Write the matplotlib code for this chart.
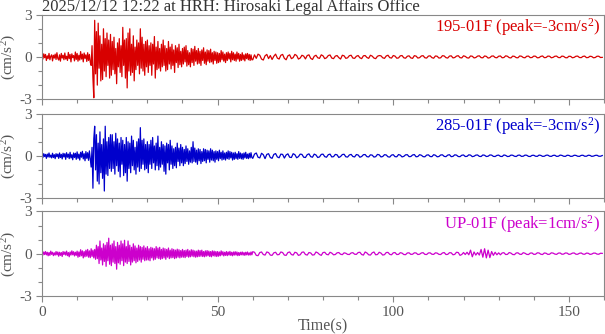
import numpy as np
import matplotlib
matplotlib.use("Agg")
import matplotlib.pyplot as plt

plt.rcParams['font.family'] = ['Liberation Serif', 'DejaVu Serif']
plt.rcParams['mathtext.fontset'] = 'custom'
plt.rcParams['mathtext.rm'] = 'Liberation Serif'
plt.rcParams['mathtext.it'] = 'Liberation Serif'
plt.rcParams['axes.unicode_minus'] = False

title = "2025/12/12 12:22 at HRH: Hirosaki Legal Affairs Office"
names = ["195-01F", "285-01F", "UP-01F"]
peaks = [-3, -3, 1]
colors = ["#d80000", "#0000cc", "#cc00cc"]

# accelerations in 0.01 cm/s^2
# head: 0-60 s every 0.25 s, tail: 60-160 s every 0.5 s
ns_head = [10, -15, 22, -5, 18, -25, 8, -12, 25, -20, 5, 15, -28, 12, -8, 20, -18, 30, -10, -22,
           15, -30, 25, -8, 12, -20, 28, -15, 5, -25, 32, -12, 18, -35, 22, -5, 10, -28, 35, -18,
           25, -30, 12, -22, 38, -15, 20, -35, 28, -10, 15, -32, 30, -25, 18, -38, -60, 80, -150, -290,
           260, -120, 180, -200, 240, -80, 150, -170, 90, -160, 200, -100, 130, -140, 170, -60, 120, -150, 160, -130,
           110, -90, 140, -120, 60, -190, 100, -70, 130, -110, 80, -140, 210, -60, 120, -150, 130, -220, 170, -100,
           200, -130, 90, -110, 150, -170, 70, -90, 120, -60, 100, -120, 200, -80, 140, -100, 90, -130, 110, -70,
           120, -110, 80, -60, 100, -130, 90, -50, 145, -150, 70, -90, 110, -80, 60, -100, 90, -70, 120, -60,
           80, -100, 60, -90, 110, -50, 70, -85, 90, -60, 50, -110, 80, -40, 65, -75, 90, -55, 40, -70,
           60, -50, 70, -35, 80, -65, 45, -55, 30, -70, 60, -40, 55, -60, 75, -30, 45, -50, 60, -45,
           40, -60, 50, -25, 65, -45, 35, -55, 50, -30, 45, -40, 55, -35, 30, -50, 40, -25, 35, -45,
           30, -40, 25, -35, 45, -20, 35, -30, 20, -40, 30, -25, 35, -15, 25, -35, 40, -20, 30, -25,
           20, -30, 35, -15, 25, -30, 18, -25, 30, -20, 15, -28, 22, -12, 25, -20, 18, -25, 15, -20]
ns_tail = [-20, 15, -10, 20, 12, -15, -22, 8, 18, -12, 10, -18, 5, 20, -8, -15, 12, 18, -10, -20,
           8, 15, -12, -5, 18, 10, -15, -8, 12, 6, -14, 10, 15, -10, -18, 5, 12, -6, -10, 15,
           8, -12, -6, 10, 14, -8, -12, 6, 10, -5, -15, 12, 8, -10, -6, 9, 12, -8, -10, 5,
           10, -6, -12, 8, 10, -4, -10, 12, 6, -8, -12, 5, 10, 8, -6, -10, 7, 12, -5, -8,
           10, 6, -9, -7, 8, 10, -6, -9, 5, 8, -7, -10, 9, 6, -8, -5, 7, 9, -6, -8,
           6, 8, -5, -9, 7, 5, -8, -6, 9, 7, -5, -8, 6, 8, -7, -4, 6, 9, -5, -7,
           8, 4, -6, -8, 7, 5, -7, -4, 6, 8, -5, -6, 7, 4, -8, -5, 6, 7, -4, -6,
           5, 7, -6, -4, 8, 5, -5, -7, 6, 4, -5, -6, 7, 5, -4, -6, 5, 6, -5, -4,
           6, 5, -6, -5, 4, 7, -5, -4, 6, 5, -6, -3, 5, 6, -4, -5, 6, 4, -5, -6,
           5, 4, -6, -3, 5, 6, -4, -5, 4, 6, -5, -4, 5, 3, -6, -4, 5, 5, -4, -3]

ew_head = [8, -12, 15, -5, 10, -18, 12, -8, 20, -10, 5, -15, 18, -12, 8, -20, 15, -6, 12, -18,
           20, -12, 10, -22, 18, -8, 15, -25, 22, -10, 12, -20, 25, -15, 8, -28, 20, -12, 18, -25,
           28, -18, 12, -30, 25, -10, 32, -22, 15, -35, 30, -18, 22, -32, 35, -20, -80, 60, -230, 120,
           210, -100, 150, -180, 90, -200, 170, -120, 80, -160, 120, -250, 210, -130, 100, -140, 130, -90, 150, -110,
           150, -90, 100, -130, 160, -70, 120, -110, 90, -150, 130, -60, 110, -140, 80, -120, 130, -180, 100, -90,
           90, -120, 140, -70, 110, -100, 60, -130, 100, -80, 120, -110, 200, -90, 110, -60, 120, -100, 80, -90,
           100, -120, 80, -60, 110, -90, 130, -50, 70, -100, 90, -70, 140, -100, 60, -80, 100, -60, 80, -110,
           70, -130, 90, -50, 80, -100, 110, -60, 70, -90, 50, -70, 60, -85, 90, -40, 55, -70, 80, -50,
           60, -70, 45, -55, 70, -40, 50, -60, 35, -45, 60, -50, 100, -40, 55, -45, 40, -60, 50, -35,
           45, -55, 30, -40, 50, -35, 45, -50, 40, -25, 35, -45, 50, -30, 40, -35, 30, -45, 35, -25,
           30, -35, 40, -20, 25, -30, 35, -25, 20, -30, 25, -20, 35, -25, 30, -15, 25, -30, 20, -25,
           25, -20, 15, -25, 30, -18, 20, -22, 15, -25, 20, -15, 25, -18, 12, -20, 18, -15, 22, -12]
ew_tail = [-18, 12, 20, -10, -15, 18, 8, -20, 10, 15, -12, -18, 10, 16, -8, -14, 12, 10, -16, 6,
           14, -10, -12, 15, 8, -14, -6, 12, 10, -10, -12, 8, 14, -6, -10, 12, 6, -12, -8, 10,
           12, -6, -10, 8, 12, -8, -6, 10, 7, -12, -5, 9, 11, -7, -9, 6, 10, -5, -8, 9,
           6, -10, -5, 8, 9, -6, -8, 7, 5, -9, -6, 10, 7, -8, -5, 8, 6, -7, -9, 5,
           8, -6, -7, 9, 5, -8, -4, 7, 8, -6, -5, 6, 9, -7, -5, 8, 4, -6, -7, 5,
           7, -5, -6, 8, 4, -7, -5, 6, 7, -4, -6, 5, 8, -6, -4, 7, 5, -5, -6, 4,
           6, -5, -4, 7, 5, -6, -3, 5, 6, -4, -5, 6, 4, -5, -3, 6, 5, -4, -5, 3,
           5, -4, -5, 6, 3, -5, -4, 5, 4, -3, -5, 4, 5, -4, -3, 5, 4, -4, -5, 3,
           4, -3, -4, 5, 3, -4, -3, 4, 5, -3, -4, 3, 4, -4, -3, 5, 3, -3, -4, 4,
           3, -4, -3, 4, 3, -3, -4, 3, 4, -3, -3, 4, 3, -4, -2, 3, 4, -3, -3, 2]

ud_head = [5, -10, 12, -6, 15, -8, 10, -15, 8, -12, 18, -5, 10, -14, 6, -10, 15, -8, 12, -18,
           10, -12, 8, -20, 15, -6, 12, -10, 18, -14, 8, -22, 12, -10, 20, -8, 14, -16, 10, -12,
           18, -25, 12, -20, 28, -15, 20, -30, 15, -22, 25, -18, 30, -25, 20, -28, 35, -20, 25, -30,
           30, -40, 60, -35, 50, -70, 90, -45, 40, -80, 70, -55, 60, -90, 80, -50, 110, -75, 60, -85,
           70, -60, 90, -70, 50, -110, 80, -65, 60, -75, 90, -50, 70, -85, 95, -60, 50, -70, 90, -55,
           60, -80, 45, -60, 70, -50, 55, -65, 40, -55, 60, -45, 50, -60, 45, -40, 55, -50, 40, -45,
           50, -45, 35, -50, 45, -30, 40, -45, 35, -40, 50, -30, 40, -35, 45, -40, 30, -35, 40, -30,
           35, -40, 30, -25, 40, -35, 25, -30, 35, -28, 30, -35, 25, -30, 32, -25, 28, -30, 22, -25,
           30, -25, 22, -28, 25, -20, 30, -25, 20, -22, 28, -18, 25, -22, 20, -25, 18, -22, 25, -20,
           22, -18, 25, -20, 15, -22, 20, -18, 22, -15, 18, -20, 15, -22, 20, -15, 18, -18, 15, -20,
           15, -18, 12, -15, 20, -10, 14, -16, 10, -12, 15, -14, 12, -10, 16, -12, 10, -15, 12, -10,
           14, -10, 12, -14, 8, -12, 10, -8, 12, -10, 8, -12, 10, -8, 12, -10, 6, -10, 12, -8]
ud_tail = [14, 10, -12, -14, 8, 12, -6, -10, 12, 8, -10, -12, 6, 10, -8, -6, 12, 8, -10, -12,
           8, 12, -6, -10, 10, 6, -12, -8, 10, 12, -6, -10, 8, 5, -10, -8, 12, 6, -6, -12,
           8, 10, -5, -8, 10, 4, -8, -6, 6, 8, -4, -7, 6, 3, -5, -6, 5, 7, -4, -5,
           8, 10, -6, -10, 12, 5, -8, -10, 6, 12, -8, -6, 10, 4, -10, -7, 8, 9, -5, -8,
           6, 8, -6, -5, 7, 4, -6, -7, 5, 6, -5, -4, 6, 5, -6, -4, 5, 7, -5, -6,
           5, 6, -4, -5, 6, 4, -5, -6, 5, 8, -6, -5, 7, 6, -8, -5, 10, 8, -12, -6,
           8, -6, 10, -8, 25, -22, 12, -10, 8, -10, 30, -25, 35, -30, 25, -28, 15, -12, 10, -8,
           6, -8, 5, 7, -6, -5, 8, 4, -6, -7, 5, 6, -4, -5, 7, 3, -5, -6, 4, 5,
           -5, -4, 6, 5, -4, -6, 5, 3, -5, -4, 6, 4, -3, -5, 4, 5, -4, -3, 5, 4,
           -5, -3, 4, 5, -4, -4, 3, 5, -3, -4, 4, 3, -5, -3, 4, 4, -3, -4, 3, 2]

traces = [(ns_head, ns_tail), (ew_head, ew_tail), (ud_head, ud_tail)]
gray = "#888888"
txt = "#555555"

fig = plt.figure(figsize=(6.05, 3.34), dpi=100)
bottoms = [0.703, 0.407, 0.114]
for i, (head, tail) in enumerate(traces):
    ax = fig.add_axes([0.0694, bottoms[i], 0.929, 0.253])
    y = np.array(head + tail) / 100.0
    t = np.concatenate([np.arange(len(head)) * 0.25, 60 + np.arange(len(tail)) * 0.5])
    ax.plot(t, y, color=colors[i], lw=0.9)
    ax.set_xlim(0, 160)
    ax.set_ylim(-3, 3)
    ax.set_yticks([-3, 0, 3])
    ax.set_yticks(np.arange(-3, 4, 1), minor=True)
    ax.set_xticks([0, 50, 100, 150])
    ax.set_xticks(np.arange(0, 161, 10), minor=True)
    for s in ax.spines.values():
        s.set_color(gray)
    ax.tick_params(which='both', direction='out', color=gray, labelcolor=txt,
                   labelsize=11, length=4, width=0.8, pad=3)
    ax.tick_params(which='minor', length=3)
    ax.set_ylabel("(cm/s$^2$)", color=txt, fontsize=11)
    ax.yaxis.set_label_coords(-0.043, 0.5)
    ax.text(0.993, 0.985, "%s (peak=%dcm/s$^2$)" % (names[i], peaks[i]),
            transform=ax.transAxes, ha='right', va='top', color=colors[i], fontsize=12)
    if i < 2:
        ax.tick_params(labelbottom=False)
    else:
        ax.set_xlabel("Time(s)", color=txt, fontsize=11.5)
        ax.xaxis.set_label_coords(0.5, -0.27)
    if i == 0:
        ax.set_title(title, loc='left', color="#333333", fontsize=12, pad=1, x=0.0)

fig.savefig("out.png", dpi=100)
